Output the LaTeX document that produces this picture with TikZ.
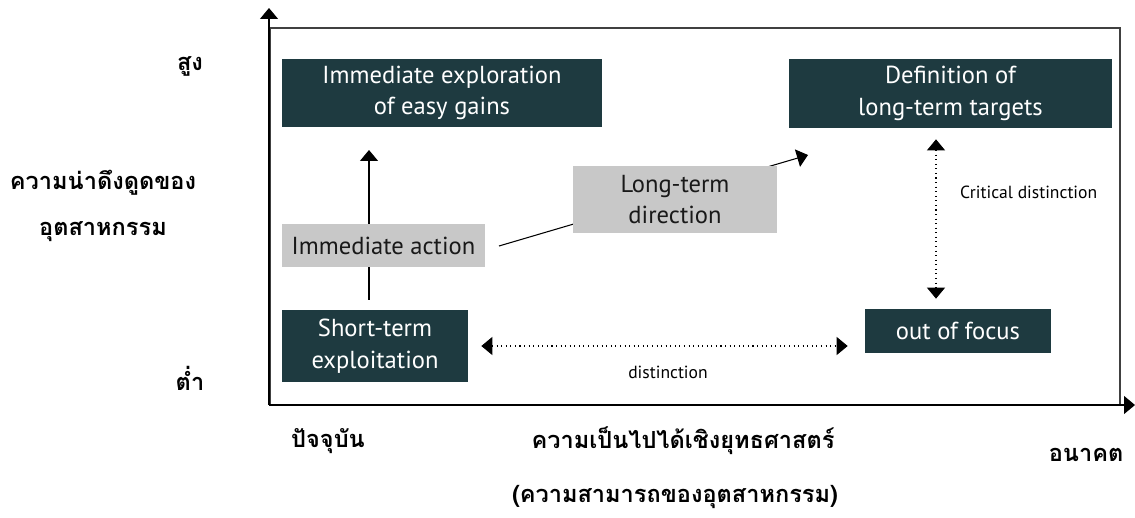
\documentclass[tikz,border=0pt]{standalone}
\usepackage{fontspec}
\setmainfont{PT Sans}
\newfontfamily\thaifont[Script=Thai]{Loma}
\usepackage{tikz}
\usetikzlibrary{arrows.meta, backgrounds}
\definecolor{darkteal}{HTML}{1E3A40}
\definecolor{lightgrey}{HTML}{C8C8C8}

\begin{document}
\begin{tikzpicture}[x=0.02cm, y=-0.02cm,
		darkbox/.style={fill=darkteal, text=white, inner sep=0pt, align=center, font=\fontsize{14}{18}\selectfont},
		greybox/.style={fill=lightgrey, text=black!90, inner sep=0pt, align=center, font=\fontsize{14}{18}\selectfont},
		arr/.style={-{Triangle[width=0.36cm,length=0.22cm]}, line width=0.6pt},
		dotarr/.style={{Triangle[width=0.36cm,length=0.22cm]}-{Triangle[width=0.36cm,length=0.22cm]}, dotted, line width=0.6pt},
		thai/.style={font=\thaifont\bfseries\fontsize{13.4}{16}\selectfont},
		note/.style={font=\fontsize{10}{12}\selectfont}]
		\useasboundingbox (0,0) rectangle (1135,517);
		% Draw axes and frame
		\coordinate (origin) at (269,405);
		\coordinate (ytip) at (269,8);
		\coordinate (xtip) at (1135,405);
		\draw[black!75, line width=0.6pt] (270,28) rectangle (1120,405);
		\draw[arr] (origin) -- (ytip);
		\draw[arr] (origin) -- (xtip);
		% Boxes
		\node[darkbox, minimum width=6.4cm, minimum height=1.36cm] (easy) at (442,93) {Immediate exploration\\of easy gains};
		\node[darkbox, minimum width=6.46cm, minimum height=1.38cm] (targets) at (950.5,93.5) {Definition of\\long-term targets};
		\node[darkbox, minimum width=3.72cm, minimum height=1.44cm] (short) at (375,346) {Short-term\\exploitation};
		\node[darkbox, minimum width=3.72cm, minimum height=0.88cm] (focus) at (958,331) {out of focus};
		\node[greybox, minimum width=4.06cm, minimum height=0.86cm] (act) at (383.5,245.5) {Immediate action};
		\node[greybox, minimum width=4.08cm, minimum height=1.34cm] (dir) at (675,199.5) {Long-term\\direction};
		% Arrows behind the boxes
		\coordinate (uptip) at (369,150);
		\coordinate (dirstart) at (499,246);
		\coordinate (dirtip) at (808,155);
		\begin{scope}[on background layer]
			\draw[arr, shorten <=0.2cm] (uptip |- short.north) -- (uptip);
			\draw[arr] (dirstart) -- (dirtip);
		\end{scope}
		% Distinctions
		\draw[dotarr, shorten <=0.26cm, shorten >=0.34cm] (short.east) -- (short.east -| focus.west);
		\draw[dotarr, shorten <=0.22cm, shorten >=0.2cm] ([xshift=-0.29cm]targets.south) -- ([xshift=-0.29cm]targets.south |- focus.north);
		\node[note] (dist) at (668,372) {distinction};
		\node[note, anchor=west] (crit) at (954,192) {Critical distinction};
		% Axis labels
		\node[thai] (high) at (190,66) {สูง};
		\node[thai] (low) at (190,378) {ต่ำ};
		\node[thai] (ylab1) at (103,183) {ความน่าดึงดูดของ};
		\node[thai] (ylab2) at (103,232) {อุตสาหกรรม};
		\node[thai] (now) at (328,441) {ปัจจุบัน};
		\node[thai] (xlab1) at (683,441) {ความเป็นไปได้เชิงยุทธศาสตร์};
		\node[thai] (xlab2) at (675,497) {(ความสามารถของอุตสาหกรรม)};
		\node[thai] (future) at (1086,455) {อนาคต};
	\end{tikzpicture}
\end{document}
